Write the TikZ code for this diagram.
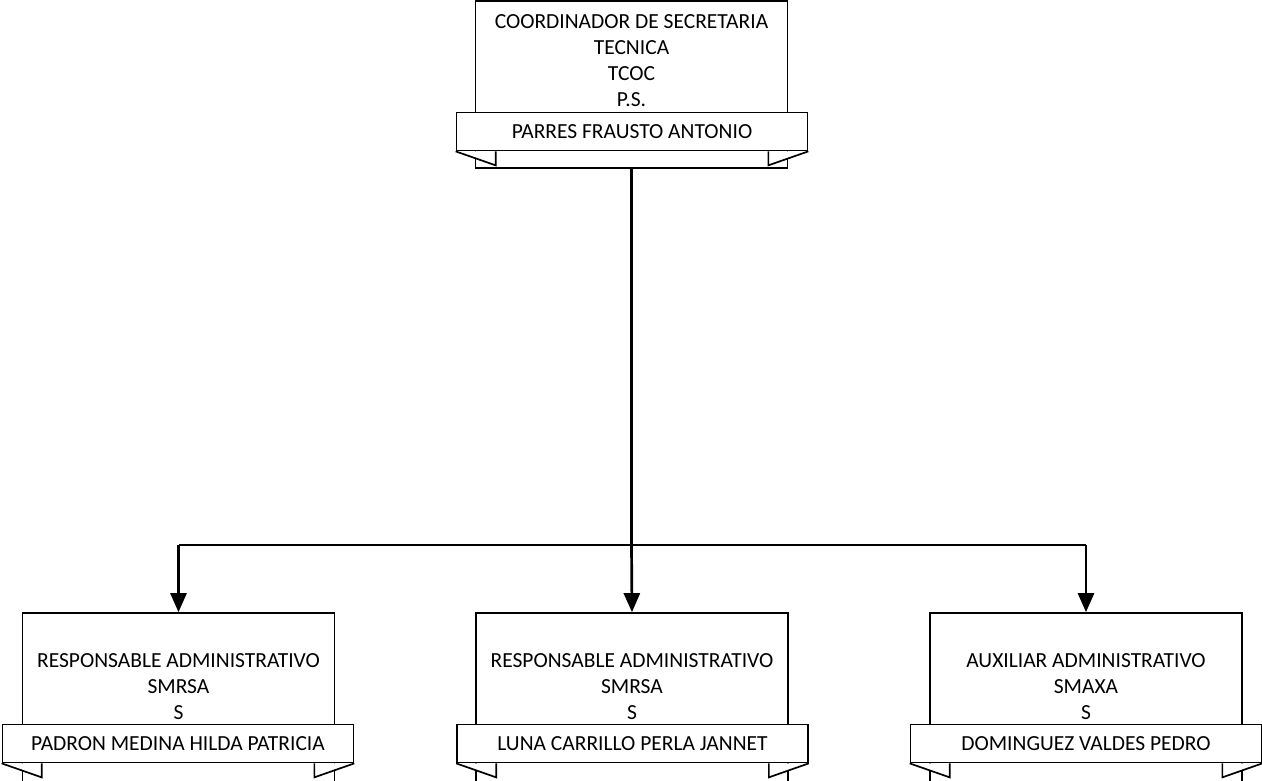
\documentclass[tikz,border=0pt]{standalone}
\usepackage{fontspec}
\setmainfont{Carlito}
\usetikzlibrary{arrows.meta}
\begin{document}
\begin{tikzpicture}[x=1pt,y=-1pt,
  box/.style={draw=black,line width=1.7pt,fill=white,minimum width=312pt,minimum height=167pt,inner sep=0pt},
  banner/.style={draw=black,line width=1.7pt,fill=white,minimum width=351pt,minimum height=38pt,inner sep=0pt,font=\fontsize{21.5}{26}\selectfont},
  lbl/.style={align=center,inner sep=0pt,font=\fontsize{21.5}{26}\selectfont},
  tail/.style={draw=black,line width=1.7pt,fill=white},
  conn/.style={line width=2.7pt},
  arr/.style={line width=2.7pt,-{Triangle[width=16pt,length=19pt]}}]
\useasboundingbox (0,0) rectangle (1262,780);
\begin{scope}
\clip (0,0) rectangle (1262,780);
% top
\node[box] (top) at (631.5,84.5) {};
\node[lbl] (toptxt) at (631.5,61) {COORDINADOR DE SECRETARIA\\TECNICA\\TCOC\\P.S.};
\node[banner] (topb) at (632,131.5) {PARRES FRAUSTO ANTONIO};
% bottom boxes
\node[box,minimum height=200pt] (b1) at (178.5,713) {};
\node[box,minimum height=200pt] (b2) at (632,713) {};
\node[box,minimum height=200pt] (b3) at (1086,713) {};
\node[lbl] (t1) at (178.5,687) {RESPONSABLE ADMINISTRATIVO\\SMRSA\\S};
\node[lbl] (t2) at (632,687) {RESPONSABLE ADMINISTRATIVO\\SMRSA\\S};
\node[lbl] (t3) at (1086,687) {AUXILIAR ADMINISTRATIVO\\SMAXA\\S};
\node[banner] (n1) at (178,743.5) {PADRON MEDINA HILDA PATRICIA};
\node[banner] (n2) at (632.5,743.5) {LUNA CARRILLO PERLA JANNET};
\node[banner] (n3) at (1086,743.5) {DOMINGUEZ VALDES PEDRO};
% tails
\foreach \b in {topb,n1,n2,n3}{
  \draw[tail] (\b.south west) -- ++(40,14) -- ++(0,-14);
  \draw[tail] (\b.south east) -- ++(-40,14) -- ++(0,-14);
}
% connectors
\coordinate (bus) at (632,545);
\draw[conn] (top.south) -- (top.south |- bus);
\draw[conn] (b1.north |- bus) -- (b3.north |- bus);
\draw[arr] (b1.north |- bus) -- (b1.north);
\draw[arr] (top.south |- bus) -- (b2.north);
\draw[arr] (b3.north |- bus) -- (b3.north);
\end{scope}
\end{tikzpicture}
\end{document}
